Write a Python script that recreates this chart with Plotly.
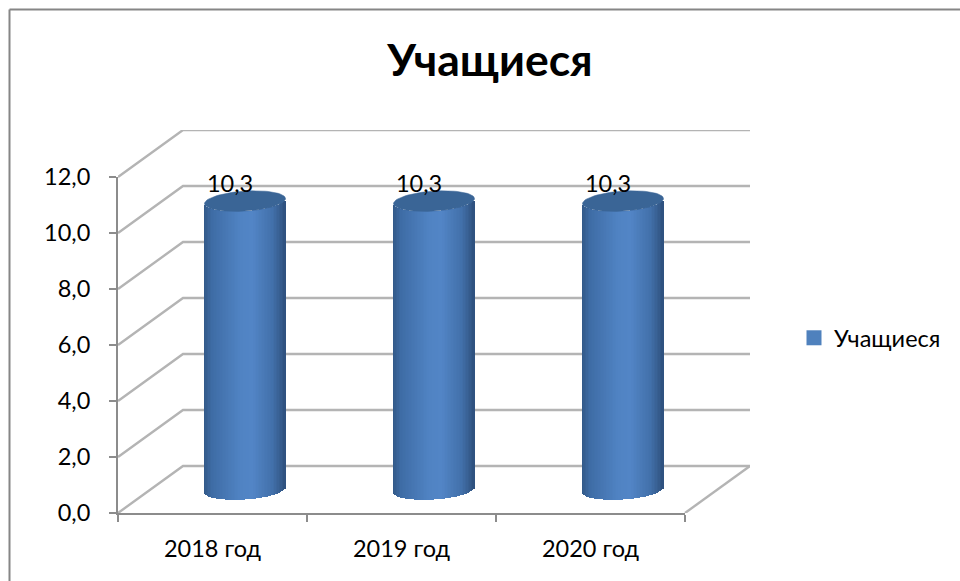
import math
import plotly.graph_objects as go

categories = ["2018 год", "2019 год", "2020 год"]
values = [10.3, 10.3, 10.3]
y_ticks = [0, 2, 4, 6, 8, 10, 12]
y_labels = ["0,0", "2,0", "4,0", "6,0", "8,0", "10,0", "12,0"]
series_name = "Учащиеся"
FONT = "Lato, Carlito, 'Open Sans', sans-serif"
W, H = 960, 581

# pixel geometry of the oblique 3D box
x0, x1, y0, y1 = 118, 685, 513, 177
depth_px_x, depth_px_y = 65, 47
ux = (x1 - x0) / len(categories)
uy = (y0 - y1) / max(y_ticks)
dx = depth_px_x / ux
dy = depth_px_y / uy
n = len(categories)
wall_x_range = [0, n + dx]
wall_y_range = [0, max(y_ticks) + dy]

def px_dom_x(a, b): return [a / W, b / W]
def px_dom_y(a, b): return [(H - a) / H, (H - b) / H]

GRID = "#b4b4b4"
TICK = "#8c8c8c"
TS = 23.5

fig = go.Figure()

# walls + floor
gx, gy = [], []
for t in y_ticks:
    gx += [0, dx, n + dx, None]
    gy += [t, t + dy, t + dy, None]
gx += [n, n + dx, None]
gy += [0, dy, None]
fig.add_trace(go.Scatter(x=gx, y=gy, mode="lines", line=dict(color=GRID, width=2.4),
                         xaxis="x", yaxis="y", showlegend=False, hoverinfo="skip"))

# cylinders
half_w = 40.5 / ux
ry = 10 / uy
tilt = 2.5 / uy
N = 54
stops = [(-1.0, (50, 88, 135)), (-0.8, (62, 108, 165)), (-0.1, (80, 131, 195)), (0.2, (82, 133, 198)),
         (0.7, (66, 112, 170)), (0.92, (52, 90, 138)), (1.0, (45, 80, 125))]
def shade(u):
    for (a, ca), (b, cb) in zip(stops, stops[1:]):
        if u <= b:
            f = (u - a) / (b - a)
            return "rgb(%d,%d,%d)" % tuple(round(p + (q - p) * f) for p, q in zip(ca, cb))
    return "rgb(45,80,125)"

for i, v in enumerate(values):
    cx = i + 0.5 + dx / 2
    xs, bases, cols, hs = [], [], [], []
    for k in range(N):
        u = -1 + (2 * k + 1) / N
        xs.append(cx + u * half_w)
        bases.append(dy / 2 - ry * math.sqrt(1 - u * u) + tilt * u)
        hs.append(v)
        cols.append(shade(u))
    fig.add_trace(go.Bar(x=xs, y=hs, base=bases, width=2 * half_w / N * 1.25,
                         marker=dict(color=cols, line=dict(width=0)),
                         xaxis="x2", yaxis="y2", showlegend=False, hoverinfo="skip"))
    ex, ey = [], []
    for k in range(73):
        a = 2 * math.pi * k / 72
        ex.append(cx + half_w * math.cos(a))
        ey.append(v + dy / 2 + ry * math.sin(a) + tilt * math.cos(a))
    fig.add_trace(go.Scatter(x=ex, y=ey, mode="lines", fill="toself", fillcolor="#3a6596",
                             line=dict(color="#3a6596", width=0.5),
                             xaxis="x2", yaxis="y2", showlegend=False, hoverinfo="skip"))

# data labels
fig.add_trace(go.Scatter(x=[i + 0.5 + 0.093 for i in range(n)], y=[v + 1.38 for v in values],
                         text=[f"{v:.1f}".replace(".", ",") for v in values],
                         mode="text", textposition="middle center",
                         textfont=dict(family=FONT, size=TS, color="#000000"),
                         xaxis="x2", yaxis="y2", showlegend=False, hoverinfo="skip"))

# front axes (labels, ticks) + legend entry
fig.add_trace(go.Scatter(x=categories, y=[None] * n, mode="markers", name=series_name,
                         marker=dict(symbol="square", size=15, color="#4F81BD"),
                         xaxis="x3", yaxis="y3", showlegend=True, hoverinfo="skip"))

hidden = dict(visible=False, showgrid=False, zeroline=False, fixedrange=True, automargin=False)
fig.update_layout(
    width=W, height=H, autosize=False,
    margin=dict(l=0, r=0, t=0, b=0, autoexpand=False),
    paper_bgcolor="#ffffff", plot_bgcolor="rgba(0,0,0,0)",
    font=dict(family=FONT, size=TS, color="#000000"),
    barmode="overlay", bargap=0,
    title=dict(text="<b>Учащиеся</b>", x=490 / W, xanchor="center", xref="paper",
               y=1 - 60 / H, yanchor="middle", yref="container",
               font=dict(family=FONT, size=44.5, color="#000000")),
    xaxis=dict(domain=px_dom_x(x0, x0 + (n + dx) * ux), range=wall_x_range, **hidden),
    yaxis=dict(domain=px_dom_y(y0, y0 - (max(y_ticks) + dy) * uy), range=wall_y_range, **hidden),
    xaxis2=dict(domain=px_dom_x(x0, x0 + (n + dx) * ux), range=wall_x_range, overlaying="x", anchor="y2", **hidden),
    yaxis2=dict(domain=px_dom_y(y0, y0 - (max(y_ticks) + dy) * uy), range=wall_y_range, overlaying="y", anchor="x2", **hidden),
    xaxis3=dict(domain=px_dom_x(x0, x1), type="category", categoryorder="array", categoryarray=categories,
                range=[-0.5, n - 0.5], anchor="y3", showgrid=False, zeroline=False, automargin=False,
                showline=True, linecolor=TICK, linewidth=2, ticks="outside", tickson="boundaries",
                ticklen=7, tickcolor=TICK, tickwidth=1.5, ticklabelstandoff=14,
                tickfont=dict(family=FONT, size=TS, color="#000000"), fixedrange=True),
    yaxis3=dict(domain=px_dom_y(y0, y1), range=[0, max(y_ticks)], anchor="x3", automargin=False,
                tickmode="array", tickvals=y_ticks, ticktext=y_labels, showgrid=False, zeroline=False,
                showline=True, linecolor=TICK, linewidth=2, ticks="outside", ticklen=7, tickcolor=TICK,
                tickwidth=1.5, ticklabelstandoff=14,
                tickfont=dict(family=FONT, size=TS, color="#000000"), fixedrange=True),
    showlegend=True,
    legend=dict(x=794 / W, xanchor="left", y=1 - 338 / H, yanchor="middle", bgcolor="rgba(0,0,0,0)",
                font=dict(family=FONT, size=TS, color="#000000")),
    shapes=[
        dict(type="line", xref="paper", yref="paper", x0=9.5 / W, x1=1, y0=1 - 9.5 / H, y1=1 - 9.5 / H,
             line=dict(color="#868686", width=2)),
        dict(type="line", xref="paper", yref="paper", x0=9.5 / W, x1=9.5 / W, y0=1 - 9.5 / H, y1=0,
             line=dict(color="#868686", width=2)),
    ],
)
fig.write_html("out.html", config={"displayModeBar": False},
               post_script="document.body.style.margin='0';document.documentElement.style.overflow='hidden';")
